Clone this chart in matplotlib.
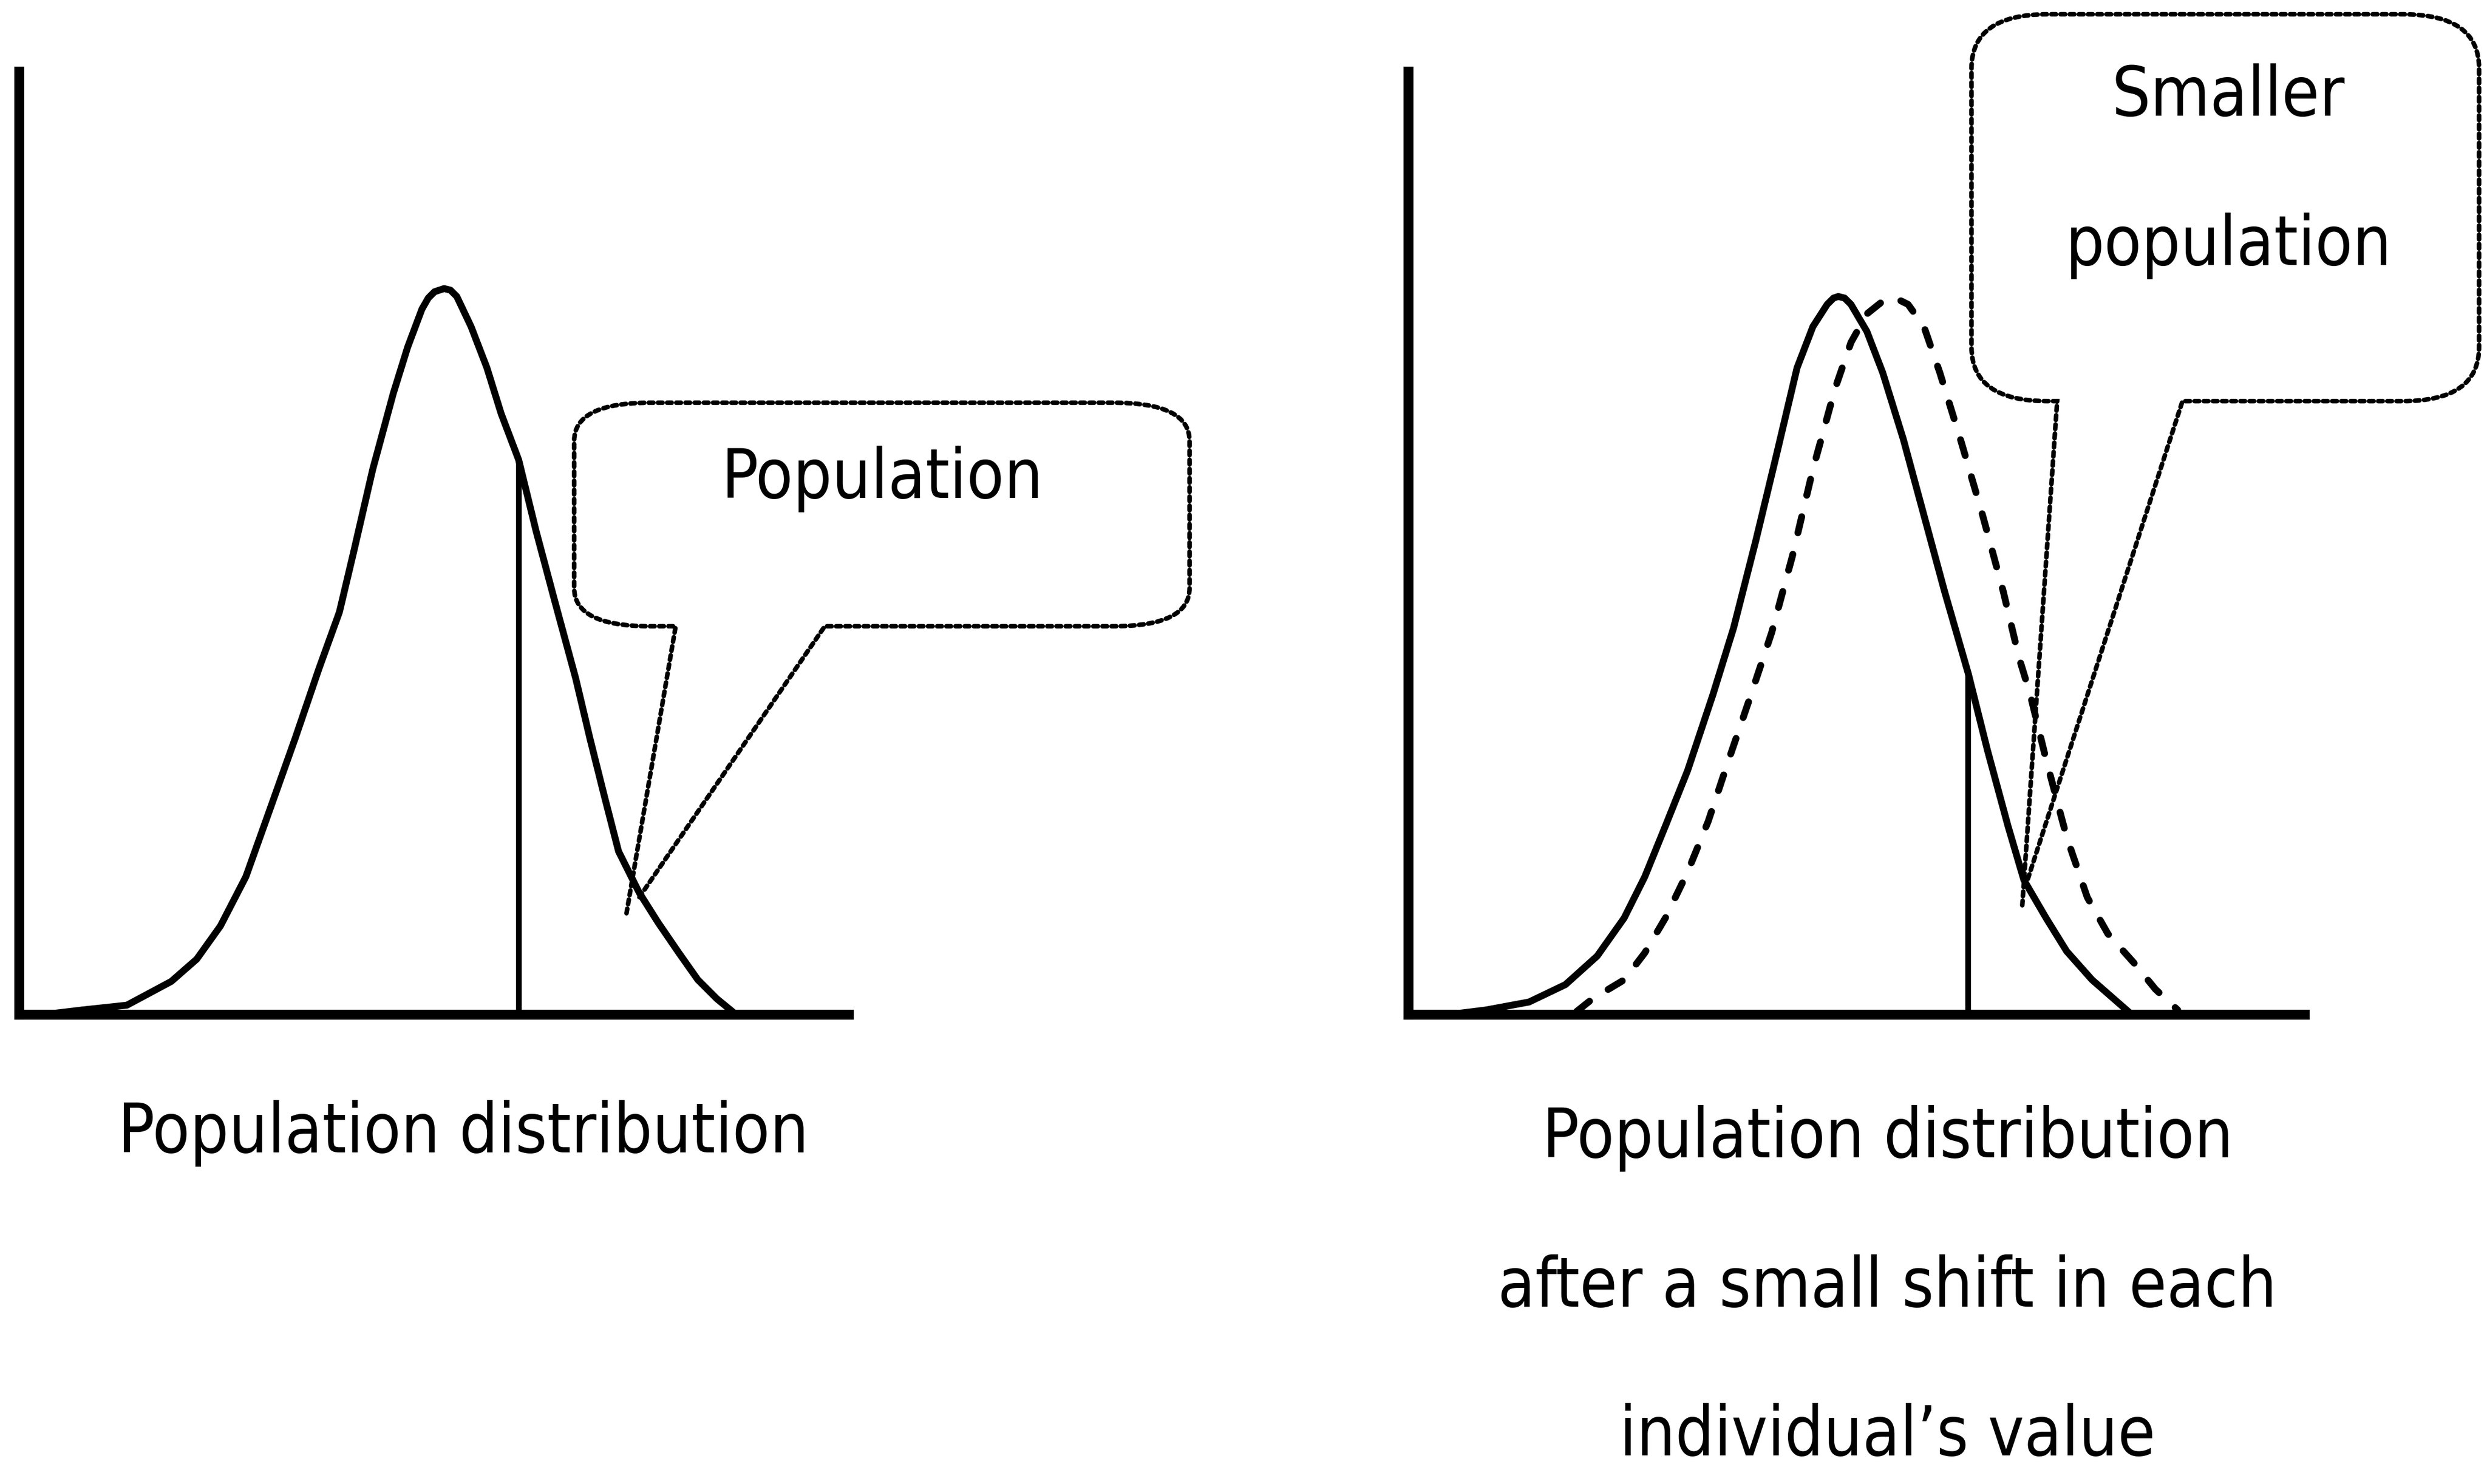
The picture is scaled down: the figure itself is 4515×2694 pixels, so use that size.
import matplotlib.pyplot as plt
from matplotlib.path import Path
from matplotlib.patches import PathPatch

# curve readings: (position, height) on each panel's own scale
left_x = [1.5, 4.0, 6.8, 9.6, 11.2, 12.7, 14.3, 15.8, 17.4, 18.9, 20.2, 21.1, 22.3,
          23.6, 24.5, 25.4, 25.8, 26.2, 26.8, 27.2, 27.6, 28.5, 29.5, 30.4, 31.5,
          32.6, 33.8, 35.1, 36.0, 36.9, 37.8, 39.1, 40.3, 41.6, 42.8, 44.0, 45.1]
left_y = [0.0, 0.3, 0.6, 2.1, 3.5, 5.6, 8.7, 12.9, 17.4, 21.8, 25.4, 29.2, 34.4,
          39.2, 42.1, 44.5, 45.2, 45.6, 45.8, 45.7, 45.3, 43.4, 40.8, 37.9, 35.0,
          30.5, 26.0, 21.2, 17.4, 13.8, 10.3, 7.7, 5.8, 3.9, 2.2, 1.0, 0.1]
left_cut_x = 31.5
left_cut_y = 35.0

before_x = [2.5, 4.9, 7.6, 9.9, 11.9, 13.6, 14.9, 16.2, 17.6, 19.2, 20.5, 21.9,
            23.2, 24.5, 25.5, 26.4, 26.8, 27.1, 27.5, 27.9, 28.9, 29.9, 31.2, 32.5,
            33.8, 35.3, 36.5, 37.8, 38.8, 40.2, 41.5, 43.1, 45.5]
before_y = [0.0, 0.3, 0.8, 1.9, 3.7, 6.1, 8.7, 11.9, 15.4, 20.2, 24.4, 29.9,
            35.3, 40.8, 43.4, 44.8, 45.2, 45.3, 45.2, 44.8, 43.1, 40.5, 36.3, 31.5,
            26.7, 21.5, 16.7, 11.9, 8.5, 6.1, 4.0, 2.2, 0.1]
after_x = [10.6, 11.6, 13.6, 14.9, 16.2, 17.6, 18.9, 20.2, 21.5, 22.9, 24.2, 25.5,
           26.9, 27.9, 28.9, 29.9, 30.7, 31.5, 32.5, 33.5, 34.8, 36.2, 37.5, 38.5,
           39.2, 40.2, 41.5, 42.8, 44.1, 45.8, 47.1, 48.5]
after_y = [0.2, 1.0, 2.2, 3.9, 6.1, 9.0, 12.2, 16.1, 19.9, 24.1, 28.9, 34.4,
           39.5, 42.4, 44.2, 45.0, 45.2, 44.8, 43.4, 40.5, 36.3, 31.5, 26.7, 22.5,
           20.2, 16.1, 11.2, 7.4, 5.1, 3.2, 1.6, 0.3]
right_cut_x = 35.3
right_cut_y = 21.5

left_callout = ["Population"]
right_callout = ["Smaller", "population"]
left_caption = ["Population distribution"]
right_caption = ["Population distribution", "after a small shift in each",
                 "individual\u2019s value"]

plt.rcParams['font.family'] = ['DejaVu Sans']
FS = 89
TXT = dict(fontsize=FS, fontstretch='condensed')

fig = plt.figure(figsize=(45.15, 26.94), dpi=100)
W, H = 1568.0, 936.0


def panel(x0, w, xlen, ylen):
    # one axes per panel, 1 data unit = 10 px of the 1568 wide layout
    ax = fig.add_axes([x0 / W, (H - 640) / H, w * 10 / W, 64 * 10 / H])
    ax.set_xlim(0, w)
    ax.set_ylim(0, 64)
    ax.set_xticks([])
    ax.set_yticks([])
    for s in ['top', 'right']:
        ax.spines[s].set_visible(False)
    for s in ['left', 'bottom']:
        ax.spines[s].set_linewidth(13)
        ax.spines[s].set_capstyle('projecting')
    ax.spines['bottom'].set_bounds(0, xlen)
    ax.spines['left'].set_bounds(0, ylen)
    ax.patch.set_visible(False)
    return ax


def callout(ax, x0, x1, y0, y1, rx, ry, xa, xb, tip_a, tip_b):
    verts = [tip_a, (xa, y0), (x0 + rx, y0), (x0, y0), (x0, y0 + ry),
             (x0, y1 - ry), (x0, y1), (x0 + rx, y1), (x1 - rx, y1), (x1, y1),
             (x1, y1 - ry), (x1, y0 + ry), (x1, y0), (x1 - rx, y0), (xb, y0), tip_b]
    codes = [Path.MOVETO, Path.LINETO, Path.LINETO, Path.CURVE3, Path.CURVE3,
             Path.LINETO, Path.CURVE3, Path.CURVE3, Path.LINETO, Path.CURVE3,
             Path.CURVE3, Path.LINETO, Path.CURVE3, Path.CURVE3, Path.LINETO,
             Path.LINETO]
    p = PathPatch(Path(verts, codes), fill=False, lw=6, ls=(0, (1, 1)),
                  ec='black', capstyle='round', clip_on=False, zorder=4)
    ax.add_patch(p)


# left panel
ax1 = panel(12, 76, 52.3, 59.5)
ax1.plot(left_x, left_y, color='black', lw=9, solid_joinstyle='round',
         solid_capstyle='round', clip_on=False)
ax1.vlines(left_cut_x, 0, left_cut_y, color='black', lw=7.5)
callout(ax1, 35.0, 73.8, 24.5, 38.6, 4.8, 2.4, 41.4, 50.8, (38.3, 6.4), (39.1, 7.4))
ax1.text(54.4, 32.6, left_callout[0], ha='center', va='baseline', **TXT)

# right panel
ax2 = panel(888, 68, 56.5, 59.5)
ax2.plot(before_x, before_y, color='black', lw=9, solid_joinstyle='round',
         solid_capstyle='round', clip_on=False)
ax2.plot(after_x, after_y, color='black', lw=9, ls=(0, (2.4, 3.2)),
         dash_capstyle='round', clip_on=False)
ax2.vlines(right_cut_x, 0, right_cut_y, color='black', lw=7.5)
callout(ax2, 35.5, 67.5, 38.7, 63.1, 4.8, 3.4, 40.9, 48.8, (38.7, 6.9), (39.0, 8.4))
ax2.text(51.7, 56.7, right_callout[0], ha='center', va='baseline', **TXT)
ax2.text(51.7, 47.3, right_callout[1], ha='center', va='baseline', **TXT)

# captions
fig.text(292 / W, 1 - 715 / H, left_caption[0], ha='center', va='center', **TXT)
for i, line in enumerate(right_caption):
    fig.text(1190 / W, 1 - (718 + 94 * i) / H, line, ha='center', va='center',
             **TXT)

fig.savefig('out.png', dpi=100, facecolor='white')
